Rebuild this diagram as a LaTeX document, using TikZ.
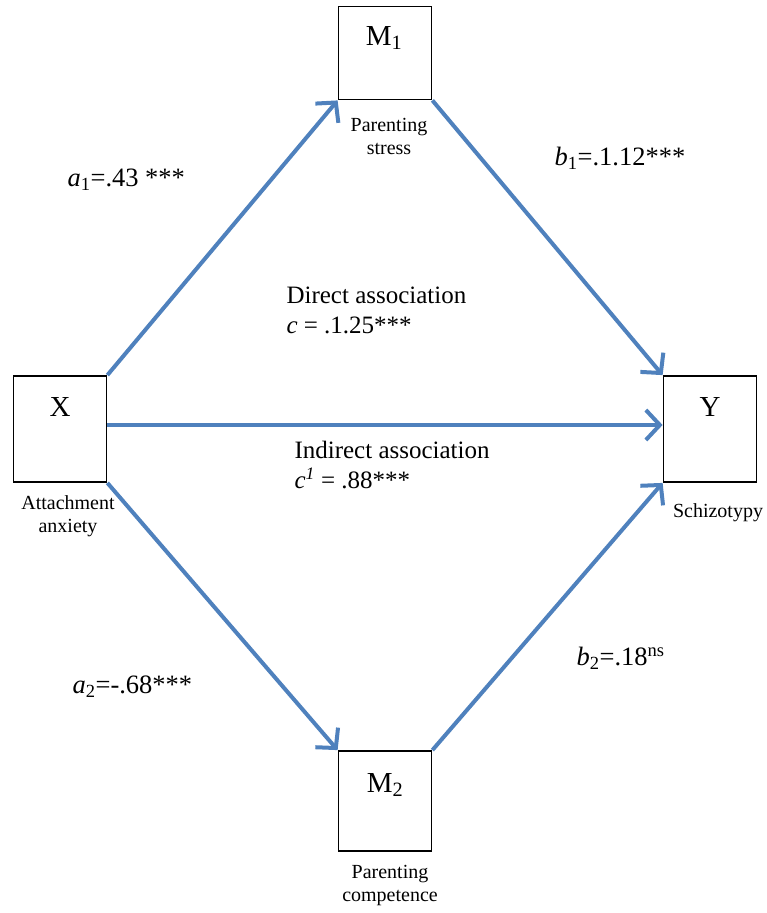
\documentclass[tikz,border=0pt]{standalone}
\usepackage{fontspec}
\setmainfont{Liberation Serif}
\usetikzlibrary{arrows.meta}
\definecolor{pathblue}{RGB}{79,129,189}

\begin{document}
\begin{tikzpicture}[x=1pt, y=-1pt,
  var/.style={draw, line width=1.8pt, minimum width=93pt, inner sep=0pt},
  letter/.style={font=\fontsize{29}{32}\selectfont},
  caption/.style={font=\fontsize{20}{23}\selectfont, align=center},
  coef/.style={font=\fontsize{26.5}{30}\selectfont, anchor=west},
  assoc/.style={font=\fontsize{25}{30}\selectfont, anchor=west, align=left},
  path/.style={draw=pathblue, line width=4pt,
    -{Straight Barb[length=14pt, width=30pt, line width=4pt]}}]
  \useasboundingbox (0,0) rectangle (766,913);
  % variables
  \node[var, minimum height=106pt] (X) at (60,429) {};
  \node[var, minimum height=93pt] (M1) at (385,53) {};
  \node[var, minimum height=106pt] (Y) at (710,429) {};
  \node[var, minimum height=100pt] (M2) at (385,801) {};
  \node[letter] (xl) at (60,407) {X};
  \node[letter] (m1l) at (384,38) {M\textsubscript{1}};
  \node[letter] (yl) at (710,407) {Y};
  \node[letter] (m2l) at (385,785) {M\textsubscript{2}};
  % captions below the boxes
  \node[caption] (xc) at (68,516) {Attachment\\anxiety};
  \node[caption] (m1c) at (389,136) {Parenting\\stress};
  \node[caption] (yc) at (718,513) {Schizotypy};
  \node[caption] (m2c) at (390,885) {Parenting\\competence};
  % paths
  \draw[path] (X.north east) -- (M1.south west);
  \draw[path] (M1.south east) -- (Y.north west);
  \draw[path] ([yshift=4pt]X.east) -- ([yshift=4pt]Y.west);
  \draw[path] (X.south east) -- (M2.north west);
  \draw[path] (M2.north east) -- (Y.south west);
  % coefficients
  \node[coef] (a1) at (64,180) {\textit{a}\textsubscript{1}=.43 ***};
  \node[coef] (b1) at (551,158) {\textit{b}\textsubscript{1}=.1.12***};
  \node[assoc] (dir) at (283,310) {Direct association\\\textit{c} = .1.25***};
  \node[assoc] (ind) at (291,465) {Indirect association\\\textit{c}\textsuperscript{\textit{1}} = .88***};
  \node[coef] (a2) at (69,687) {\textit{a}\textsubscript{2}=-.68***};
  \node[coef] (b2) at (573,658) {\textit{b}\textsubscript{2}=.18\textsuperscript{ns}};
\end{tikzpicture}
\end{document}
